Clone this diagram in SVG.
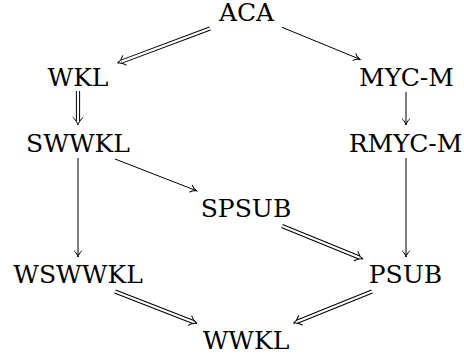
<svg xmlns="http://www.w3.org/2000/svg" width="464" height="358" viewBox="0 0 464 358">
<style>
text{font-family:'DejaVu Serif',serif;font-size:25px;fill:#000;text-anchor:middle}
.s{fill:none;stroke:#000;stroke-width:1}
.dO{fill:none;stroke:#000;stroke-width:4.2}
.dI{fill:none;stroke:#fff;stroke-width:2.2}
.h{fill:none;stroke:none}
</style>
<defs>
<marker id="to" markerUnits="userSpaceOnUse" markerWidth="12" markerHeight="12" viewBox="-8 -6 10 12" refX="0" refY="0" orient="auto" overflow="visible">
<path d="M-6,-3.6 C-4.5,-1.6 -1.5,-0.4 0,0 C-1.5,0.4 -4.5,1.6 -6,3.6" fill="none" stroke="#000" stroke-width="1" stroke-linecap="round"/>
</marker>
<marker id="imp" markerUnits="userSpaceOnUse" markerWidth="14" markerHeight="14" viewBox="-10 -7 12 14" refX="0" refY="0" orient="auto" overflow="visible">
<path d="M-7.5,-5 C-5.5,-2.4 -2,-0.5 0,0 C-2,0.5 -5.5,2.4 -7.5,5" fill="none" stroke="#000" stroke-width="1" stroke-linecap="round"/>
</marker>
</defs>
<g id="connectors">
<path class="dO" d="M210,28.5 L121.5,61.6"/><path class="dI" d="M210,28.5 L121.5,61.6"/><path class="h" d="M210,28.5 L117.5,63" marker-end="url(#imp)"/>
<path class="s" d="M282,27.3 L360,59.3" marker-end="url(#to)"/>
<path class="dO" d="M78,91 L78,121"/><path class="dI" d="M78,91 L78,121"/><path class="h" d="M78,91 L78,125" marker-end="url(#imp)"/>
<path class="s" d="M406,92 L406,125" marker-end="url(#to)"/>
<path class="s" d="M78,158 L78,257" marker-end="url(#to)"/>
<path class="s" d="M406,158 L406,257" marker-end="url(#to)"/>
<path class="s" d="M115,159 L196.7,190.8" marker-end="url(#to)"/>
<path class="dO" d="M282,226 L359.3,257.5"/><path class="dI" d="M282,226 L359.3,257.5"/><path class="h" d="M282,226 L363,259" marker-end="url(#imp)"/>
<path class="dO" d="M115,291.5 L193.3,322"/><path class="dI" d="M115,291.5 L193.3,322"/><path class="h" d="M115,291.5 L197,323.4" marker-end="url(#imp)"/>
<path class="dO" d="M372,291.5 L297,321.8"/><path class="dI" d="M372,291.5 L297,321.8"/><path class="h" d="M372,291.5 L293.5,323.2" marker-end="url(#imp)"/>
</g>
<g id="ACA"><text x="246.5" y="21">ACA</text></g>
<g id="WKL"><text x="78" y="86">WKL</text></g>
<g id="MYC-M"><text x="406.5" y="86">MYC-M</text></g>
<g id="SWWKL"><text x="78" y="152">SWWKL</text></g>
<g id="RMYC-M"><text x="405.5" y="152">RMYC-M</text></g>
<g id="SPSUB"><text x="246" y="217">SPSUB</text></g>
<g id="WSWWKL"><text x="78" y="283">WSWWKL</text></g>
<g id="PSUB"><text x="405.5" y="283">PSUB</text></g>
<g id="WWKL"><text x="246" y="349">WWKL</text></g>
</svg>
